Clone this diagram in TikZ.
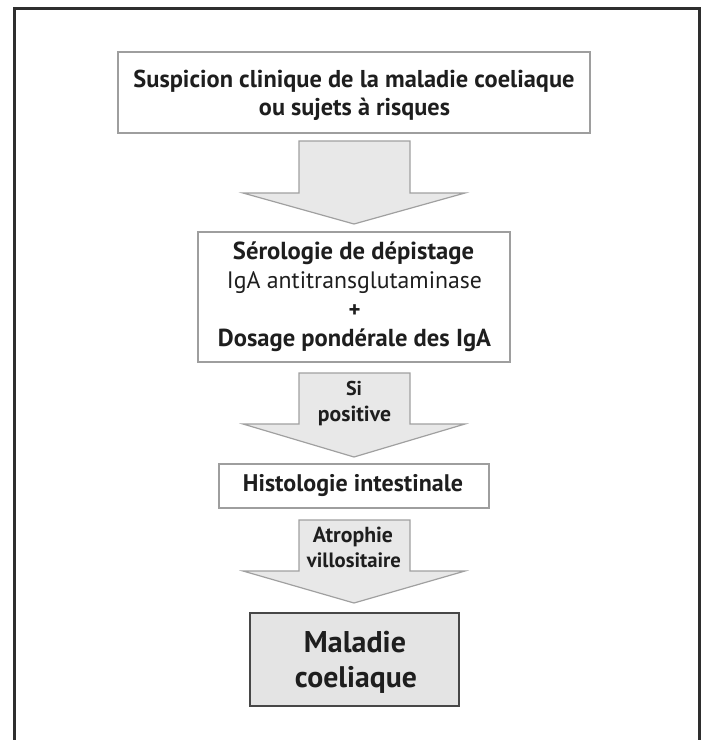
\documentclass[tikz,border=0pt]{standalone}
\usepackage{graphicx}
\usepackage{fontspec}
\setmainfont{PT Sans}
\definecolor{framecol}{HTML}{2E2E2E}
\definecolor{boxgray}{HTML}{9E9E9E}
\definecolor{arrgray}{HTML}{A0A0A0}
\definecolor{arrfill}{HTML}{E8E8E8}
\definecolor{finalfill}{HTML}{E4E4E4}
\definecolor{finaldraw}{HTML}{474747}
\definecolor{txt}{HTML}{1E1E1E}
\newcommand\fitb[2]{\resizebox{#1pt}{!}{\bfseries #2}}
\newcommand\fitr[2]{\resizebox{#1pt}{!}{#2}}
\newcommand\flowarrow[4]{% name, top, base, tip
  \draw[arr] (299,#2) -- (410,#2) -- (410,#3) -- (465,#3) -- (354,#4) -- (243,#3) -- (299,#3) -- cycle;
  \coordinate (#1) at (354,#2);}
\begin{document}
\begin{tikzpicture}[x=1pt,y=-1pt,
  box/.style={draw=boxgray, line width=1.5pt, fill=white, inner sep=0pt},
  arr/.style={draw=arrgray, line width=1.2pt, fill=arrfill, line join=miter},
  ln/.style={inner sep=0pt, anchor=base, text=txt},
  frame/.style={draw=framecol, line width=3pt}]
\useasboundingbox (0,0) rectangle (705,740);
\draw[frame] (14,760) -- (14,8) -- (699,8) -- (699,760);

\node[box, minimum width=472pt, minimum height=81pt] (b1) at (354,92.5) {};
\node[ln] (t1a) at (354,87) {\fitb{441}{Suspicion clinique de la maladie coeliaque}};
\node[ln] (t1b) at (354.5,115) {\fitb{191}{ou sujets à risques}};

\flowarrow{a1}{141}{193}{224}

\node[box, minimum width=312pt, minimum height=130pt] (b2) at (354,297) {};
\node[ln] (t2a) at (353.5,259) {\fitb{241}{Sérologie de dépistage}};
\node[ln] (t2b) at (354.5,288) {\fitr{255}{IgA antitransglutaminase}};
\node[ln] (t2c) at (354.5,317) {\fitb{12}{+}};
\node[ln] (t2d) at (354.5,346) {\fitb{273}{Dosage pondérale des IgA}};

\flowarrow{a2}{373}{424}{457}
\node[ln] (l2a) at (354,395) {\fitb{16}{Si}};
\node[ln] (l2b) at (354.5,421) {\fitb{73}{positive}};

\node[box, minimum width=270pt, minimum height=44pt] (b3) at (354,486) {};
\node[ln] (t3) at (353,491) {\fitb{220}{Histologie intestinale}};

\flowarrow{a3}{520}{571}{603}
\node[ln] (l3a) at (353,542) {\fitb{80}{Atrophie}};
\node[ln] (l3b) at (354,567) {\fitb{94}{villositaire}};

\node[box, draw=finaldraw, fill=finalfill, line width=2pt, minimum width=209pt, minimum height=93pt] (b4) at (354.5,659.5) {};
\node[ln] (t4a) at (355,652) {\fitb{102}{Maladie}};
\node[ln] (t4b) at (356,687) {\fitb{122}{coeliaque}};
\end{tikzpicture}
\end{document}
